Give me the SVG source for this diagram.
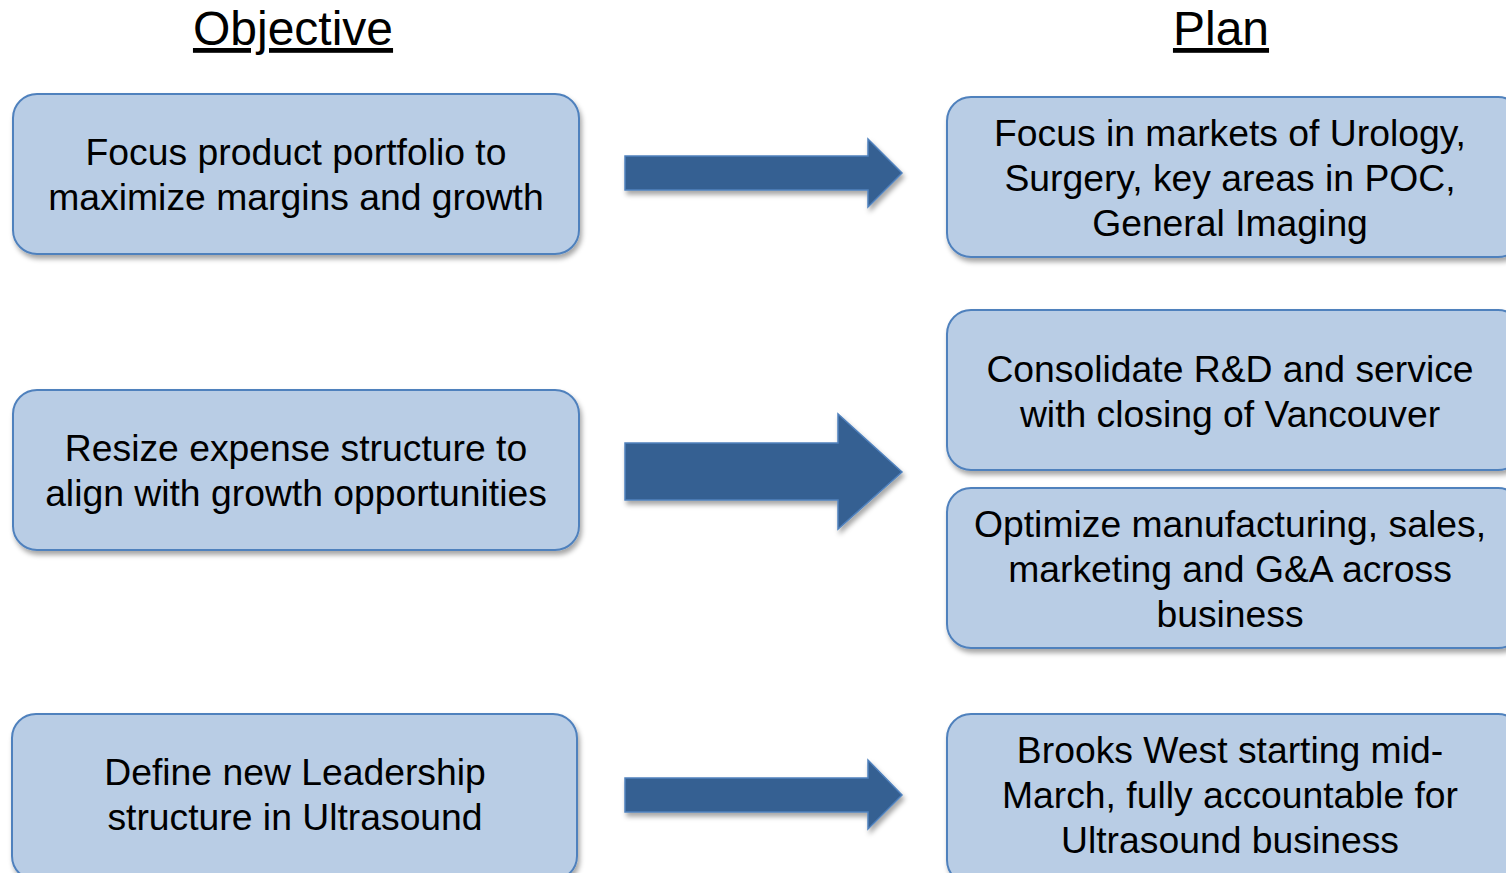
<svg xmlns="http://www.w3.org/2000/svg" width="1506" height="873" viewBox="0 0 1506 873">
<style>
.box{fill:#B9CDE5;stroke:#4F81BD;stroke-width:2;filter:url(#sh)}
.arr{fill:#366092;stroke:#4F81BD;stroke-width:1.5;filter:url(#sh)}
.t{font-family:"Liberation Sans",Arial,sans-serif;font-size:37.3px;fill:#000;text-anchor:middle}
.h{font-family:"Liberation Sans",Arial,sans-serif;font-size:48px;fill:#000;text-anchor:middle;text-decoration:underline}
</style>
<defs>
<filter id="sh" x="-10%" y="-10%" width="130%" height="140%">
<feDropShadow dx="2" dy="4" stdDeviation="2.5" flood-color="#000" flood-opacity="0.35"/>
</filter>
</defs>
<rect width="1506" height="873" fill="#fff"/>
<text class="h" x="293" y="45">Objective</text>
<text class="h" x="1221" y="45">Plan</text>

<g id="obj1"><rect class="box" x="13" y="94" width="566" height="160" rx="24"/>
<text class="t" x="296" y="165">Focus product portfolio to</text>
<text class="t" x="296" y="210">maximize margins and growth</text></g>

<g id="obj2"><rect class="box" x="13" y="390" width="566" height="160" rx="24"/>
<text class="t" x="296" y="461">Resize expense structure to</text>
<text class="t" x="296" y="506">align with growth opportunities</text></g>

<g id="obj3"><rect class="box" x="12" y="714" width="565" height="166" rx="24"/>
<text class="t" x="295" y="785">Define new Leadership</text>
<text class="t" x="295" y="830">structure in Ultrasound</text></g>

<g id="plan1"><rect class="box" x="947" y="97" width="575" height="160" rx="24"/>
<text class="t" x="1230" y="146">Focus in markets of Urology,</text>
<text class="t" x="1230" y="191">Surgery, key areas in POC,</text>
<text class="t" x="1230" y="236">General Imaging</text></g>

<g id="plan2"><rect class="box" x="947" y="310" width="575" height="160" rx="24"/>
<text class="t" x="1230" y="382">Consolidate R&amp;D and service</text>
<text class="t" x="1230" y="427">with closing of Vancouver</text></g>

<g id="plan3"><rect class="box" x="947" y="488" width="575" height="160" rx="24"/>
<text class="t" x="1230" y="537">Optimize manufacturing, sales,</text>
<text class="t" x="1230" y="582">marketing and G&amp;A across</text>
<text class="t" x="1230" y="627">business</text></g>

<g id="plan4"><rect class="box" x="947" y="714" width="575" height="170" rx="24"/>
<text class="t" x="1230" y="763">Brooks West starting mid-</text>
<text class="t" x="1230" y="808">March, fully accountable for</text>
<text class="t" x="1230" y="853">Ultrasound business</text></g>

<g id="connectors">
<polygon class="arr" points="625,156 868,156 868,139 902,173 868,207 868,190 625,190"/>
<polygon class="arr" points="625,443 838,443 838,414 902,472 838,529 838,500 625,500"/>
<polygon class="arr" points="625,778 868,778 868,760 902,795 868,829 868,812 625,812"/>
</g>
</svg>
